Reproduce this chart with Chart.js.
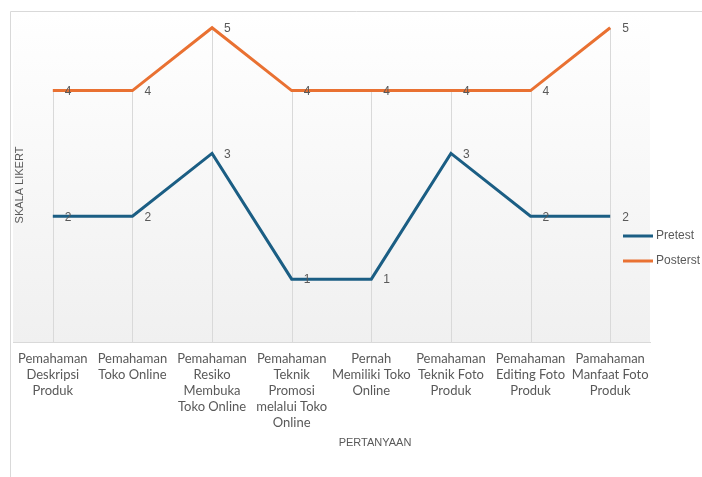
<!DOCTYPE html>
<html>
<head>
<meta charset="utf-8">
<script src="https://cdn.jsdelivr.net/npm/chart.js@4.4.0/dist/chart.umd.min.js"></script>
<style>
    html, body { margin: 0; padding: 0; background: #ffffff; }
    #wrap { width: 702px; height: 477px; position: relative; }
</style>
</head>
<body>
<div id="wrap"><canvas id="grafik"></canvas></div>
<script>

const kategori = [
    ["Pemahaman", "Deskripsi", "Produk"],
    ["Pemahaman", "Toko Online"],
    ["Pemahaman", "Resiko", "Membuka", "Toko Online"],
    ["Pemahaman", "Teknik", "Promosi", "melalui Toko", "Online"],
    ["Pernah", "Memiliki Toko", "Online"],
    ["Pemahaman", "Teknik Foto", "Produk"],
    ["Pemahaman", "Editing Foto", "Produk"],
    ["Pamahaman", "Manfaat Foto", "Produk"]
];

const pretest = [2, 2, 3, 1, 1, 3, 2, 2];
const posttest = [4, 4, 5, 4, 4, 4, 4, 5];

const labelSeri = ["Pretest", "Posterst"];
const warnaSeri = ["#1b5e84", "#e97132"];

const fuenteTick = "Lato, sans-serif";
const fuente = "'Liberation Sans', Arial, sans-serif";
const gris = "#595959";
const garis = "#d9d9d9";

// fondo degradado del area + borde exterior
const fondoPlugin = {
    id: "fondo",
    beforeDraw(chart) {
        const ctx = chart.ctx;
        const a = chart.chartArea;
        const g = ctx.createLinearGradient(0, a.top, 0, a.bottom);
        g.addColorStop(0, "#ffffff");
        g.addColorStop(1, "#f0f0f0");
        ctx.save();
        ctx.fillStyle = g;
        ctx.fillRect(a.left, a.top, a.right - a.left, a.bottom - a.top);

        ctx.strokeStyle = garis;
        ctx.lineWidth = 1;
        ctx.beginPath();
        ctx.moveTo(10.5, chart.height);
        ctx.lineTo(10.5, 11.5);
        ctx.lineTo(chart.width, 11.5);
        ctx.stroke();
        ctx.restore();
    },
    beforeDatasetsDraw(chart) {
        // lineas verticales desde el valor mayor hasta el eje
        const ctx = chart.ctx;
        const x = chart.scales.x;
        const y = chart.scales.y;
        ctx.save();
        ctx.strokeStyle = garis;
        ctx.lineWidth = 1;
        kategori.forEach((k, i) => {
            const px = Math.round(x.getPixelForValue(i)) + 0.5;
            const top = y.getPixelForValue(Math.max(pretest[i], posttest[i]));
            ctx.beginPath();
            ctx.moveTo(px, top);
            ctx.lineTo(px, y.getPixelForValue(0));
            ctx.stroke();
        });
        ctx.restore();
    },
    afterDatasetsDraw(chart) {
        const ctx = chart.ctx;
        ctx.save();
        ctx.font = "12px " + fuente;
        ctx.fillStyle = gris;
        ctx.textAlign = "left";
        ctx.textBaseline = "middle";
        chart.data.datasets.forEach((ds, di) => {
            const meta = chart.getDatasetMeta(di);
            meta.data.forEach((p, i) => {
                ctx.fillText(ds.data[i], p.x + 12, p.y + 1);
            });
        });

        // leyenda
        chart.data.datasets.forEach((ds, di) => {
            const ly = 236 + di * 25;
            ctx.strokeStyle = ds.borderColor;
            ctx.lineWidth = 3;
            ctx.beginPath();
            ctx.moveTo(623, ly);
            ctx.lineTo(653, ly);
            ctx.stroke();
            ctx.fillText(ds.label, 656, ly);
        });

        // titulos de ejes
        ctx.font = "11px " + fuente;
        ctx.textAlign = "center";
        ctx.fillText("PERTANYAAN", 375, 443);
        ctx.translate(20, 185);
        ctx.rotate(-Math.PI / 2);
        ctx.fillText("SKALA LIKERT", 0, 0);
        ctx.restore();
    }
};

new Chart(document.getElementById("grafik"), {
    type: "line",
    data: {
        labels: kategori,
        datasets: [
            {
                label: labelSeri[0],
                data: pretest,
                borderColor: warnaSeri[0],
                backgroundColor: warnaSeri[0],
                borderWidth: 3,
                pointRadius: 0,
                tension: 0
            },
            {
                label: labelSeri[1],
                data: posttest,
                borderColor: warnaSeri[1],
                backgroundColor: warnaSeri[1],
                borderWidth: 3,
                pointRadius: 0,
                tension: 0
            }
        ]
    },
    options: {
        responsive: true,
        maintainAspectRatio: false,
        animation: false,
        layout: {
            padding: { left: 13, top: 12, right: 52, bottom: 0 }
        },
        plugins: {
            legend: { display: false },
            tooltip: { enabled: false }
        },
        scales: {
            x: {
                offset: true,
                grid: { display: false, drawTicks: false },
                border: { display: true, color: garis, width: 1 },
                ticks: {
                    color: gris,
                    font: { family: fuenteTick, size: 13, lineHeight: 1.23 },
                    maxRotation: 0,
                    autoSkip: false,
                    padding: 9
                },
                afterFit: s => { s.height = 135; }
            },
            y: {
                display: false,
                min: 0,
                max: 5.25
            }
        }
    },
    plugins: [fondoPlugin]
});
</script>
</body>
</html>
